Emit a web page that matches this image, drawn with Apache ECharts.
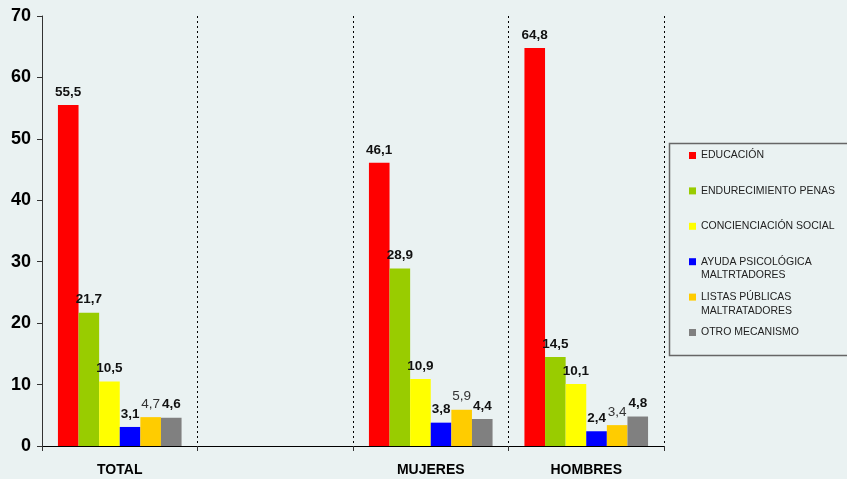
<!DOCTYPE html>
<html><head><meta charset="utf-8">
<script src="https://cdn.jsdelivr.net/npm/echarts@6/dist/echarts.min.js"></script>
<style>html,body{margin:0;padding:0;background:#eaf2f2}#c{width:847px;height:479px}</style>
</head><body><div id="c"></div>
<script>
const categories = ['TOTAL', '', 'MUJERES', 'HOMBRES'];
const seriesNames = ['EDUCACIÓN', 'ENDURECIMIENTO PENAS', 'CONCIENCIACIÓN SOCIAL', 'AYUDA PSICOLÓGICA\nMALTRTADORES', 'LISTAS PÚBLICAS\nMALTRATADORES', 'OTRO MECANISMO'];
const educacion = [55.5, null, 46.1, 64.8];
const endurecimiento = [21.7, null, 28.9, 14.5];
const concienciacion = [10.5, null, 10.9, 10.1];
const ayuda = [3.1, null, 3.8, 2.4];
const listas = [4.7, null, 5.9, 3.4];
const otro = [4.6, null, 4.4, 4.8];
const yTicks = [0, 10, 20, 30, 40, 50, 60, 70];

const values = [educacion, endurecimiento, concienciacion, ayuda, listas, otro];
const colors = ['#ff0000', '#99cc00', '#ffff00', '#0000ff', '#ffcc00', '#808080'];
const font = 'Liberation Sans, Arial, sans-serif';

const chart = echarts.init(document.getElementById('c'));
chart.setOption({
  backgroundColor: '#eaf2f2',
  animation: false,
  grid: { left: 42, right: 183, top: 16, bottom: 33 },
  xAxis: {
    type: 'category', data: categories,
    axisLine: { lineStyle: { color: '#000', width: 1 } },
    axisTick: { show: true, length: 5, lineStyle: { color: '#333' } },
    axisLabel: { color: '#000', fontWeight: 'bold', fontSize: 14, fontFamily: font, margin: 17 },
    splitLine: { show: true, lineStyle: { color: '#000', type: [2, 3], width: 1 } }
  },
  yAxis: {
    type: 'value', min: yTicks[0], max: yTicks[yTicks.length - 1], interval: 10,
    axisLine: { show: true, lineStyle: { color: '#333', width: 1 } },
    axisTick: { show: true, length: 5, lineStyle: { color: '#333' } },
    axisLabel: { color: '#000', fontWeight: 'bold', fontSize: 18, fontFamily: font, margin: 11 },
    splitLine: { show: false }
  },
  legend: {
    orient: 'vertical', left: 684, top: 145,
    itemWidth: 7, itemHeight: 7, itemGap: 24.4, icon: 'rect',
    textStyle: { fontSize: 10.5, color: '#222', fontFamily: font },
    formatter: n => n.split('\n')[0],
    data: seriesNames
  },
  graphic: [
    { type: 'rect', shape: { x: 669.5, y: 143.5, width: 200, height: 212 }, style: { fill: 'none', stroke: '#666', lineWidth: 1.5 } },
    { type: 'text', left: 701, top: 269.5, style: { text: seriesNames[3].split('\n')[1], fontSize: 10.5, fill: '#222', fontFamily: font } },
    { type: 'text', left: 701, top: 305.5, style: { text: seriesNames[4].split('\n')[1], fontSize: 10.5, fill: '#222', fontFamily: font } }
  ],
  series: values.map((v, i) => ({
    name: seriesNames[i], type: 'bar', data: v,
    barGap: '0%', barCategoryGap: '20.5%',
    itemStyle: { color: colors[i] },
    label: {
      show: true, position: 'top', distance: 6,
      fontFamily: font, fontSize: 13.5,
      fontWeight: i === 4 ? 'normal' : 'bold',
      color: i === 4 ? '#333' : '#111',
      formatter: p => p.value == null ? '' : String(p.value).replace('.', ',')
    }
  }))
});
</script></body></html>
